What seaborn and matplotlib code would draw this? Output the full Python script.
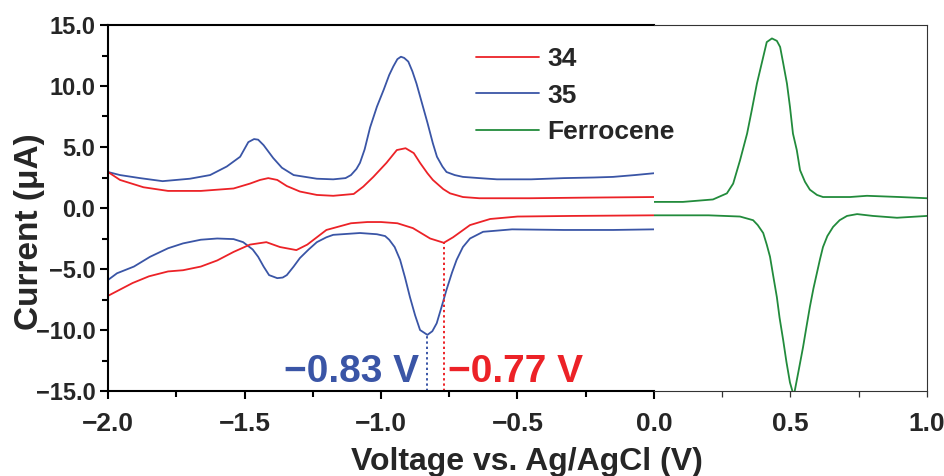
import numpy as np
import pandas as pd
import matplotlib
matplotlib.use("Agg")
import matplotlib.pyplot as plt
from matplotlib.lines import Line2D
from matplotlib.ticker import MultipleLocator, FuncFormatter, FixedLocator
import seaborn as sns

# ---------------- data ----------------
# compound 35 (blue), oxidative (upper) branch
c35_up_x = [-2.0, -1.956, -1.883, -1.80, -1.70, -1.626, -1.565, -1.516, -1.486, -1.465, -1.45, -1.43,
            -1.395, -1.363, -1.32, -1.235, -1.175, -1.13, -1.11, -1.09, -1.077, -1.06, -1.04, -1.015,
            -0.99, -0.97, -0.955, -0.94, -0.927, -0.915, -0.90, -0.885, -0.87, -0.85, -0.83, -0.81,
            -0.795, -0.775, -0.76, -0.73, -0.70, -0.64, -0.575, -0.45, -0.33, -0.22, -0.15, -0.07, 0.0]
c35_up_y = [2.95, 2.7, 2.45, 2.2, 2.4, 2.7, 3.4, 4.2, 5.4, 5.65, 5.6, 5.15,
            4.1, 3.3, 2.7, 2.4, 2.35, 2.45, 2.7, 3.2, 3.7, 4.8, 6.6, 8.3,
            9.7, 10.9, 11.6, 12.2, 12.4, 12.3, 12.0, 11.2, 10.2, 8.6, 7.0, 5.3,
            4.2, 3.4, 2.95, 2.7, 2.55, 2.45, 2.35, 2.35, 2.45, 2.5, 2.55, 2.7, 2.85]
# compound 35 (blue), reductive (lower) branch
c35_dn_x = [-2.0, -1.967, -1.905, -1.846, -1.78, -1.725, -1.66, -1.60, -1.54, -1.505, -1.47, -1.45,
            -1.43, -1.41, -1.38, -1.36, -1.345, -1.32, -1.297, -1.265, -1.235, -1.20, -1.175, -1.077,
            -1.015, -0.985, -0.97, -0.95, -0.93, -0.912, -0.894, -0.875, -0.857, -0.83, -0.812,
            -0.796, -0.778, -0.76, -0.74, -0.723, -0.70, -0.674, -0.626, -0.52, -0.33, -0.15, 0.0]
c35_dn_y = [-5.9, -5.35, -4.8, -4.0, -3.3, -2.9, -2.6, -2.5, -2.55, -2.8, -3.4, -4.0,
            -4.8, -5.5, -5.75, -5.7, -5.5, -4.8, -4.1, -3.4, -2.8, -2.4, -2.2, -2.05,
            -2.15, -2.3, -2.6, -3.2, -4.25, -5.7, -7.3, -8.8, -10.0, -10.4, -10.1,
            -9.45, -8.1, -6.7, -5.3, -4.25, -3.2, -2.5, -1.95, -1.75, -1.8, -1.8, -1.75]
# compound 34 (red), oxidative (upper) branch
c34_up_x = [-2.0, -1.956, -1.87, -1.78, -1.66, -1.54, -1.48, -1.443, -1.413, -1.38, -1.345, -1.297,
            -1.235, -1.175, -1.10, -1.065, -1.028, -0.98, -0.942, -0.91, -0.88, -0.857, -0.83,
            -0.81, -0.772, -0.747, -0.70, -0.64, -0.455, -0.25, 0.0]
c34_up_y = [2.95, 2.3, 1.7, 1.4, 1.4, 1.6, 2.0, 2.3, 2.45, 2.3, 1.8, 1.35,
            1.07, 1.0, 1.15, 1.75, 2.55, 3.7, 4.75, 4.9, 4.5, 3.7, 2.85,
            2.3, 1.55, 1.2, 0.9, 0.8, 0.8, 0.85, 0.9]
# compound 34 (red), reductive (lower) branch
c34_dn_x = [-2.0, -1.91, -1.85, -1.78, -1.725, -1.66, -1.60, -1.54, -1.48, -1.42, -1.37, -1.31,
            -1.27, -1.20, -1.11, -1.05, -1.0, -0.94, -0.883, -0.82, -0.77, -0.736, -0.674,
            -0.60, -0.50, -0.30, 0.0]
c34_dn_y = [-7.2, -6.15, -5.6, -5.2, -5.1, -4.8, -4.3, -3.6, -3.0, -2.8, -3.2, -3.45,
            -3.0, -1.8, -1.25, -1.15, -1.15, -1.25, -1.65, -2.5, -2.85, -2.4, -1.4,
            -0.9, -0.7, -0.65, -0.6]
# ferrocene (green)
fc_up_x = [0.0, 0.106, 0.216, 0.267, 0.29, 0.315, 0.341, 0.358, 0.377, 0.395, 0.413, 0.432,
           0.45, 0.462, 0.473, 0.487, 0.498, 0.509, 0.523, 0.535, 0.553, 0.571, 0.597, 0.619,
           0.718, 0.78, 0.90, 1.0]
fc_up_y = [0.5, 0.5, 0.7, 1.2, 2.0, 3.9, 6.1, 8.0, 10.2, 11.9, 13.6, 13.9,
           13.7, 13.2, 11.9, 10.2, 8.3, 6.1, 4.75, 3.1, 2.15, 1.5, 1.07, 0.9,
           0.9, 1.0, 0.9, 0.8]
fc_dn_x = [0.0, 0.20, 0.315, 0.363, 0.38, 0.40, 0.413, 0.425, 0.437, 0.45, 0.46, 0.473,
           0.485, 0.498, 0.512, 0.53, 0.546, 0.558, 0.571, 0.584, 0.597, 0.608, 0.619, 0.635,
           0.656, 0.68, 0.707, 0.744, 0.802, 0.89, 1.0]
fc_dn_y = [-0.6, -0.6, -0.7, -1.0, -1.4, -2.05, -3.0, -4.0, -5.6, -7.3, -9.0, -10.8,
           -12.6, -14.3, -15.4, -13.3, -11.4, -9.8, -8.1, -6.6, -5.3, -4.2, -3.2, -2.3,
           -1.55, -1.0, -0.65, -0.5, -0.65, -0.8, -0.65]

series_names = ["34", "35", "Ferrocene"]
peak_x = [-0.83, -0.77]        # reduction peak potentials (35, 34)
peak_y = [-10.4, -2.85]
peak_labels = ["\u22120.83 V", "\u22120.77 V"]

RED = "#ec2227"
BLUE = "#3a55a6"
GREEN = "#228b3c"

# ---------------- style ----------------
sns.set_theme(style="ticks")
plt.rcParams["font.family"] = ["Liberation Sans", "DejaVu Sans"]
plt.rcParams["font.weight"] = "bold"
plt.rcParams["axes.unicode_minus"] = True

fig = plt.figure(figsize=(9.45, 4.76), dpi=100)
ax1 = fig.add_axes([108 / 945, 85 / 476, 546 / 945, 366 / 476])
ax2 = fig.add_axes([654 / 945, 85 / 476, 273 / 945, 366 / 476])
ax2.patch.set_visible(False)

LW = 1.3
sns.lineplot(x=c35_up_x, y=c35_up_y, sort=False, estimator=None, color=BLUE, lw=LW, ax=ax1)
sns.lineplot(x=c35_dn_x, y=c35_dn_y, sort=False, estimator=None, color=BLUE, lw=LW, ax=ax1)
sns.lineplot(x=c34_up_x, y=c34_up_y, sort=False, estimator=None, color=RED, lw=LW, ax=ax1)
sns.lineplot(x=c34_dn_x, y=c34_dn_y, sort=False, estimator=None, color=RED, lw=LW, ax=ax1)
sns.lineplot(x=fc_up_x, y=fc_up_y, sort=False, estimator=None, color=GREEN, lw=LW, ax=ax2)
sns.lineplot(x=fc_dn_x, y=fc_dn_y, sort=False, estimator=None, color=GREEN, lw=LW, ax=ax2)

YMIN, YMAX = -15, 15
for ax in (ax1, ax2):
    ax.set_ylim(YMIN, YMAX)
ax1.set_xlim(-2.0, 0.0)
ax2.set_xlim(0.0, 1.0)

# reduction-peak markers
for px, py, col, lab, ha, dx in zip(peak_x, peak_y, [BLUE, RED], peak_labels,
                                     ["right", "left"], [-0.032, 0.015]):
    ax1.vlines(px, YMIN, py, colors=col, linestyles=(0, (1.2, 1.5)), lw=1.4)
    ax1.text(px + dx, -14.25, lab, color=col, fontsize=28, fontweight="bold",
             ha=ha, va="baseline")

# spines
for s in ("left", "bottom", "top"):
    ax1.spines[s].set_linewidth(1.5)
    ax1.spines[s].set_color("black")
ax1.spines["right"].set_visible(False)
for s in ("top", "right", "bottom"):
    ax2.spines[s].set_linewidth(0.8)
    ax2.spines[s].set_color("#333333")
ax2.spines["left"].set_visible(False)

fmt = FuncFormatter(lambda v, p: f"{v:.1f}".replace("-", "\u2212"))
ax1.xaxis.set_major_locator(MultipleLocator(0.5))
ax1.xaxis.set_minor_locator(MultipleLocator(0.25))
ax1.yaxis.set_major_locator(MultipleLocator(5))
ax1.yaxis.set_minor_locator(MultipleLocator(2.5))
ax1.xaxis.set_major_formatter(fmt)
ax1.yaxis.set_major_formatter(fmt)
ax1.tick_params(axis="both", which="major", direction="out", length=6, width=1.5, color="black")
ax1.tick_params(axis="both", which="minor", direction="out", length=4, width=1.5, color="black")
ax1.tick_params(axis="x", which="major", labelsize=19, pad=9)
ax1.tick_params(axis="y", which="major", labelsize=17, pad=3)
ax1.tick_params(axis="both", top=False, right=False, which="both")

ax2.xaxis.set_major_locator(FixedLocator([0.5, 1.0]))
ax2.xaxis.set_minor_locator(FixedLocator([0.25, 0.75]))
ax2.xaxis.set_major_formatter(fmt)
ax2.tick_params(axis="x", which="both", direction="out", length=4, width=0.9, color="#333333",
                labelsize=19, pad=11)
ax2.tick_params(axis="y", which="both", left=False, right=False, labelleft=False)
ax2.set_ylabel("")
ax1.set_xlabel("")
ax1.set_ylabel("")
for lab in ax1.get_xticklabels() + ax1.get_yticklabels() + ax2.get_xticklabels():
    lab.set_fontweight("bold")

fig.text(527 / 945, 6 / 476, "Voltage vs. Ag/AgCl (V)", fontsize=23, fontweight="bold",
         ha="center", va="baseline")
fig.text(30 / 945, 0.513, "Current (\u03bcA)", fontsize=24, fontweight="bold",
         ha="center", va="center", rotation=90)

handles = [Line2D([], [], color=c, lw=LW) for c in (RED, BLUE, GREEN)]
fig.legend(handles, series_names, loc="upper left", bbox_to_anchor=(476 / 945, (476 - 47) / 476),
           bbox_transform=fig.transFigure, frameon=False, handlelength=2.4,
           handletextpad=0.3, labelspacing=0.48, borderpad=0, borderaxespad=0,
           prop={"weight": "bold", "size": 19})

fig.savefig("out.png", dpi=100)
